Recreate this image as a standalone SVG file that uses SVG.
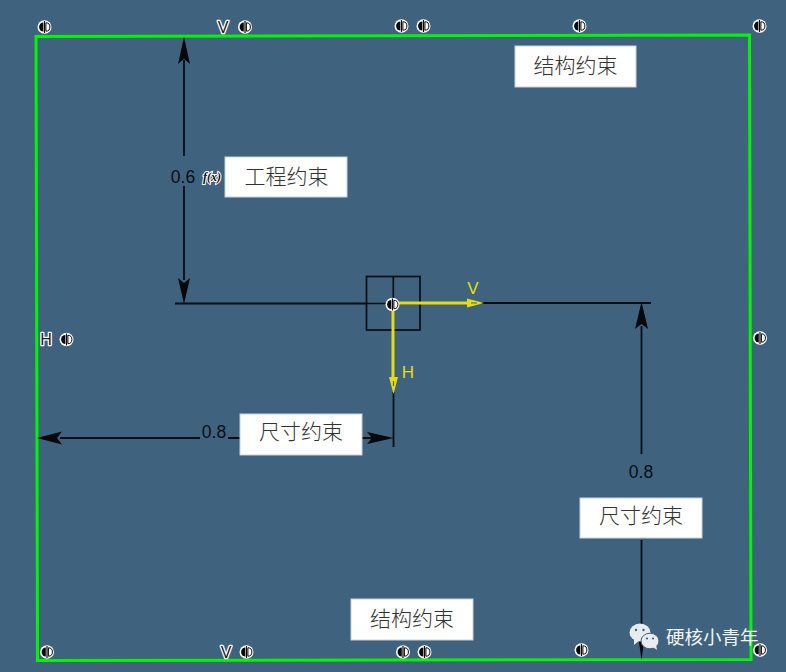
<svg xmlns="http://www.w3.org/2000/svg" width="786" height="672" viewBox="0 0 786 672">
<style>
.dim{fill:none;stroke:#0a0d12;stroke-width:1.8}
.head{fill:#05080c;stroke:none}
.yl{fill:none;stroke:#e6dc14;stroke-width:3}
.box{fill:#fff;stroke:#c8d2da;stroke-width:1}
.cn{font-family:"Noto Sans CJK SC","Noto Sans",sans-serif;font-size:21px;font-weight:300;fill:#333;text-anchor:middle}
.num{font-family:"Liberation Sans",Arial,sans-serif;font-size:17.500px;fill:#0a0d12;text-anchor:middle}
.lab{font-family:"Liberation Sans",Arial,sans-serif;font-size:16px;fill:#222;stroke:#fff;stroke-width:2.6px;paint-order:stroke;stroke-linejoin:round;text-anchor:middle}
.ylab{font-family:"Liberation Sans",Arial,sans-serif;font-size:17px;fill:#e6dc14;text-anchor:middle}
</style>
<defs>
<g id="sym">
<ellipse cx="0" cy="0" rx="7" ry="6.800" fill="#fff"/>
<path d="M-1.200-4.600A4.200 4.600 0 0 0-1.200 4.600Z" fill="#0a0a0a"/>
<path d="M1.400-4.200A4 4.200 0 0 1 1.400 4.200Z" fill="#fff" stroke="#0a0a0a" stroke-width="1"/>
<path d="M0-6V6" stroke="#0a0a0a" stroke-width="1.200"/>
</g>
</defs>
<rect width="786" height="672" fill="#3f637e"/>
<g id="frame"><path d="M36 36.500L749.500 35 751 659.500 37.500 660.500Z" fill="none" stroke="#00f500" stroke-width="3"/></g>
<g id="connectors">
<path class="dim" d="M184 60V156M184 186V280M175 303.500H366M420 303H651M641.500 326V454M641.500 540V640M60 438H200M228 438H240M362 438H372M393.500 392V447"/>
<path class="head" d="M184 37L190 64 184 59 178 64ZM184 304L178 278 184 283 190 278ZM641.500 302L648 329 641.500 324 635 329ZM641.500 660L637 628 641.500 633 646 628ZM37 438L62 431.500 57 438 62 444.500ZM393.500 438L367 432 372 438 367 444Z"/>
</g>
<g id="datum-box"><rect x="366.500" y="276.500" width="53.500" height="53.500" fill="none" stroke="#0a0d12" stroke-width="1.700"/><path d="M393.300 276.500V330M366.500 303.500H420" stroke="#0a0d12" stroke-width="1.700"/></g>
<g id="axes">
<path class="yl" d="M393 303H470M393 303V385"/>
<path d="M467 298.500L484 303 467 307.500ZM389 377L398 377 393.500 394Z" fill="#e6dc14"/>
<path d="M471 303H477M393.500 381V386" stroke="#3f637e" stroke-width="1.200" fill="none"/>
<text class="ylab" x="473" y="294">V</text>
<text class="ylab" x="408" y="378">H</text>
<use href="#sym" x="392.500" y="304.500"/>
</g>
<g id="symbols">
<use href="#sym" x="44.500" y="27"/><use href="#sym" x="245" y="27"/><use href="#sym" x="401.500" y="26"/><use href="#sym" x="423.500" y="26"/><use href="#sym" x="579.500" y="26"/><use href="#sym" x="759.500" y="26"/>
<use href="#sym" x="66.500" y="339.500"/><use href="#sym" x="760" y="338"/>
<use href="#sym" x="47" y="652"/><use href="#sym" x="246.500" y="652"/><use href="#sym" x="403" y="652"/><use href="#sym" x="424.500" y="652"/><use href="#sym" x="581.500" y="650"/><use href="#sym" x="760" y="650"/>
<text class="lab" x="223" y="33">V</text><text class="lab" x="226" y="658">V</text><text class="lab" x="46" y="345">H</text>
</g>
<g id="dim-0-6"><text class="num" x="183" y="183">0.6</text>
<text x="212" y="181" font-family="Liberation Serif,serif" font-style="italic" font-size="12" font-weight="bold" fill="#111" stroke="#fff" stroke-width="2" paint-order="stroke" text-anchor="middle">f(x)</text></g>
<g id="dim-0-8-h"><text class="num" x="214" y="438">0.8</text></g>
<g id="dim-0-8-v"><text class="num" x="641" y="478">0.8</text></g>
<g id="label-top"><rect class="box" x="515" y="46" width="121" height="41"/><text class="cn" x="575.500" y="72.500">结构约束</text></g>
<g id="label-eng"><rect class="box" x="225" y="157" width="122" height="40"/><text class="cn" x="286.500" y="184">工程约束</text></g>
<g id="label-dim-h"><rect class="box" x="240" y="414" width="122" height="41"/><text class="cn" x="301" y="439">尺寸约束</text></g>
<g id="label-dim-v"><rect class="box" x="580" y="498" width="122" height="40"/><text class="cn" x="641" y="523">尺寸约束</text></g>
<g id="label-bottom"><rect class="box" x="351" y="599" width="122" height="41"/><text class="cn" x="412" y="625.500">结构约束</text></g>
<g id="watermark">
<ellipse cx="640" cy="632.500" rx="10.500" ry="9" fill="#e8ecef"/><path d="M634 639L634 645 640 640Z" fill="#e8ecef"/>
<ellipse cx="650" cy="641" rx="9" ry="7.800" fill="#e8ecef" stroke="#3f637e" stroke-width="1"/><path d="M653 647L657 650 656 645Z" fill="#e8ecef"/>
<circle cx="636" cy="630" r="1.200" fill="#3f637e"/><circle cx="643.500" cy="630" r="1.200" fill="#3f637e"/><circle cx="647" cy="638.500" r="1.100" fill="#3f637e"/><circle cx="653" cy="638.500" r="1.100" fill="#3f637e"/>
<text x="666" y="644" font-family="Noto Sans CJK SC,Noto Sans,sans-serif" font-size="18.500" fill="#f2f4f6">硬核小青年</text>
</g>
</svg>
